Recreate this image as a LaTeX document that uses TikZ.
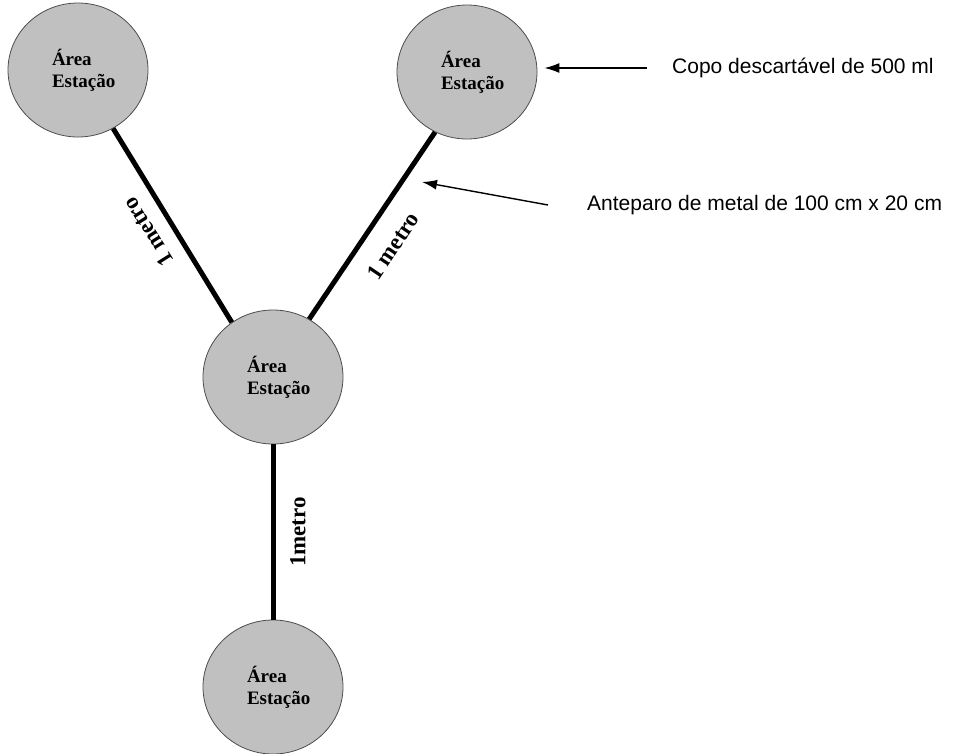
\documentclass[tikz,border=0pt]{standalone}
\usepackage{fontspec}
\setmainfont{Liberation Serif}
\newfontfamily\notafont{Liberation Sans}
\usepackage{xcolor}
\usetikzlibrary{arrows.meta, positioning, shapes.geometric}

\definecolor{areacinza}{RGB}{192,192,192}

\begin{document}
\begin{tikzpicture}[
  x=1pt, y=-1pt,
  every node/.style={inner sep=0pt},
  area/.style={ellipse, draw=black!70, line width=0.8pt, fill=areacinza,
    minimum width=140pt, minimum height=134pt, text width=52pt, align=left,
    font=\fontsize{19}{22}\selectfont\bfseries},
  haste/.style={line width=5pt, black},
  rotulo/.style={font=\fontsize{23}{26}\selectfont\bfseries},
  nota/.style={anchor=west, font=\notafont\fontsize{21}{24}\selectfont},
  seta/.style={-{Latex[length=15pt, width=10pt]}, line width=1.4pt},
]
\useasboundingbox (0,0) rectangle (953,753);

% estacoes
\node[area] (esq) at (78,70) {Área\\Estação};
\node[area] (dir) at (467,72) {Área\\Estação};
\node[area] (centro) at (273,377) {Área\\Estação};
\node[area] (baixo) at (273,687) {Área\\Estação};

% anteparos de 1 metro
\draw[haste] (esq.-59) -- (centro.127);
\draw[haste] (dir.-118) -- (centro.58);
\draw[haste] (centro) -- (baixo);

\node[rotulo, rotate=122] (m1) at (148,232) {1 metro};
\node[rotulo, rotate=56] (m2) at (393,246) {1 metro};
\node[rotulo, rotate=90] (m3) at (298,532) {1metro};

% legendas
\node[nota] (copo) at (672,68) {Copo descartável de 500 ml};
\draw[seta, shorten <=25pt, shorten >=7pt] (copo.west) -- (copo.west -| dir.east);

\node[nota] (antep) at (587,205) {Anteparo de metal de 100 cm x 20 cm};
\coordinate[left=39pt of antep.west] (antecauda);
\coordinate (antealvo) at (422,182);
\draw[seta] (antecauda) -- (antealvo);

\end{tikzpicture}
\end{document}
